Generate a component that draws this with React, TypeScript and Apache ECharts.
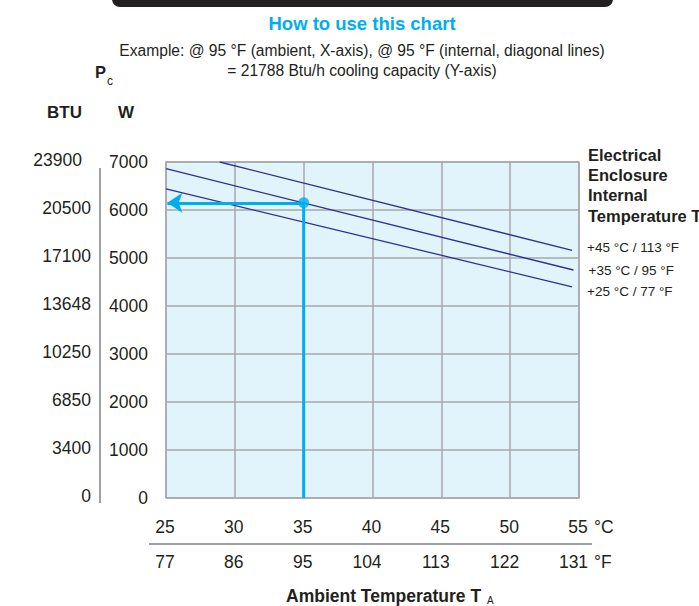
import React, { useEffect, useRef } from "react";
import * as echarts from "echarts";

// ---- data ----
const celsiusTicks = [25, 30, 35, 40, 45, 50, 55];
const celsiusLabels = ["25", "30", "35", "40", "45", "50", "55"];
const fahrenheitLabels = ["77", "86", "95", "104", "113", "122", "131"];
const wattLabels = ["0", "1000", "2000", "3000", "4000", "5000", "6000", "7000"];
const btuLabels = ["0", "3400", "6850", "10250", "13648", "17100", "20500", "23900"];

const seriesNames = ["+45 °C / 113 °F", "+35 °C / 95 °F", "+25 °C / 77 °F"];
const line45 = [[28.9, 7000], [54.5, 5160]];
const line35 = [[25, 6860], [54.6, 4750]];
const line25 = [[25, 6440], [54.5, 4400]];

const exampleAmbient = 35;
const exampleCapacity = 6150;
const arrowEndX = 25.1;

const FONT = "'Liberation Sans', Arial, Helvetica, sans-serif";
const TXT = "#231F20";
const CYAN = "#00AEEF";
const NAVY = "#2E3192";
const GRIDC = "#A7A9AC";

export default function App() {
  const ref = useRef<HTMLDivElement>(null);

  useEffect(() => {
    if (!ref.current) return;
    const chart = echarts.init(ref.current, null, { renderer: "svg" });

    const lineSeries = (name: string, data: number[][], offY: number) => ({
      type: "line",
      name,
      data,
      symbol: "none",
      showSymbol: false,
      lineStyle: { color: NAVY, width: 1.3 },
      z: 3,
      endLabel: {
        show: true,
        formatter: "{a}",
        distance: 15,
        offset: [0, offY],
        fontSize: 13.5,
        fontFamily: FONT,
        color: TXT,
      },
    });

    const txt = (text: string, x: number, y: number, size: number, opts: any = {}) => ({
      type: "text",
      x,
      y,
      silent: true,
      style: {
        text,
        fill: opts.fill || TXT,
        fontSize: size,
        fontFamily: FONT,
        fontWeight: opts.bold ? "bold" : "normal",
        align: opts.align || "left",
        verticalAlign: "middle",
      },
    });

    const idx = (v: number, base: number, step: number) => Math.round((v - base) / step);

    // tick labels sit right-aligned a little right of each tick, as in the reference
    const tickRich = {
      s: { fontSize: 17.5, fontFamily: FONT, color: TXT, padding: [0, 2, 0, 0] },
      l: { fontSize: 17.5, fontFamily: FONT, color: TXT, padding: [0, 11, 0, 0] },
    };
    const tickFmt = (labels: string[]) => (v: number) => {
      const s = labels[idx(v, 25, 5)] ?? "";
      return s.length >= 3 ? "{l|" + s + "}" : "{s|" + s + "}";
    };

    chart.setOption({
      animation: false,
      backgroundColor: "#ffffff",
      grid: {
        left: 166,
        top: 162,
        width: 413,
        height: 336,
        show: true,
        backgroundColor: "#E1F3FB",
        borderColor: GRIDC,
        borderWidth: 1.5,
        containLabel: false,
      },
      xAxis: [
        {
          type: "value",
          min: celsiusTicks[0],
          max: celsiusTicks[celsiusTicks.length - 1],
          interval: 5,
          position: "bottom",
          axisLine: { show: false },
          axisTick: { show: false },
          splitLine: { show: true, lineStyle: { color: GRIDC, width: 1.5 } },
          axisLabel: {
            showMinLabel: true,
            showMaxLabel: true,
            margin: 20,
            fontSize: 17.5,
            fontFamily: FONT,
            color: TXT,
            formatter: tickFmt(celsiusLabels),
            rich: tickRich,
          },
        },
        {
          type: "value",
          min: celsiusTicks[0],
          max: celsiusTicks[celsiusTicks.length - 1],
          interval: 5,
          position: "bottom",
          offset: 35,
          axisLine: { show: false },
          axisTick: { show: false },
          splitLine: { show: false },
          axisLabel: {
            showMinLabel: true,
            showMaxLabel: true,
            margin: 20,
            fontSize: 17.5,
            fontFamily: FONT,
            color: TXT,
            formatter: tickFmt(fahrenheitLabels),
            rich: tickRich,
          },
        },
      ],
      yAxis: [
        {
          type: "value",
          min: 0,
          max: 7000,
          interval: 1000,
          position: "left",
          axisLine: { show: false },
          axisTick: { show: false },
          splitLine: { show: true, lineStyle: { color: GRIDC, width: 1.5 } },
          axisLabel: {
            showMinLabel: true,
            showMaxLabel: true,
            margin: 18,
            fontSize: 17.5,
            fontFamily: FONT,
            color: TXT,
            padding: [0, 0, 4, 0],
            formatter: (v: number) => wattLabels[idx(v, 0, 1000)] ?? "",
          },
        },
        {
          type: "value",
          min: 0,
          max: 7000,
          interval: 1000,
          position: "left",
          offset: 66,
          axisLine: { show: false },
          axisTick: { show: false },
          splitLine: { show: false },
          axisLabel: {
            showMinLabel: true,
            showMaxLabel: true,
            margin: 9,
            fontSize: 17.5,
            fontFamily: FONT,
            color: TXT,
            padding: [0, 0, 4, 0],
            formatter: (v: number) => {
              const i = idx(v, 0, 1000);
              const s = btuLabels[i] ?? "";
              return i === btuLabels.length - 1 ? "{t|" + s + "}" : s;
            },
            rich: {
              t: { fontSize: 17.5, fontFamily: FONT, color: TXT, padding: [0, 9, 0, 0] },
            },
          },
        },
      ],
      series: [
        lineSeries(seriesNames[0], line45, -3),
        lineSeries(seriesNames[1], line35, 0),
        lineSeries(seriesNames[2], line25, 5),
        {
          type: "line",
          name: "example-vertical",
          data: [
            [exampleAmbient, 0],
            [exampleAmbient, exampleCapacity],
          ],
          symbol: "none",
          showSymbol: false,
          lineStyle: { color: CYAN, width: 3 },
          z: 4,
          markLine: {
            silent: true,
            symbol: ["none", "arrow"],
            symbolSize: 15,
            label: { show: false },
            lineStyle: { color: CYAN, width: 3, type: "solid" },
            data: [
              [
                { coord: [exampleAmbient, exampleCapacity] },
                { coord: [arrowEndX, exampleCapacity] },
              ],
            ],
          },
        },
        {
          type: "scatter",
          name: "example-point",
          data: [[exampleAmbient, exampleCapacity]],
          symbol: "circle",
          symbolSize: 11,
          itemStyle: { color: CYAN },
          z: 5,
        },
      ],
      graphic: [
        {
          type: "rect",
          silent: true,
          shape: { x: 112, y: -12, width: 501, height: 19, r: 8 },
          style: { fill: "#231F20" },
        },
        txt("How to use this chart", 362, 23, 18.5, { bold: true, fill: CYAN, align: "center" }),
        txt("Example: @ 95 °F (ambient, X-axis), @ 95 °F (internal, diagonal lines)", 362, 50, 15.6, {
          align: "center",
        }),
        txt("= 21788 Btu/h cooling capacity (Y-axis)", 362, 70, 15.6, { align: "center" }),
        txt("P", 95, 72, 16.5, { bold: true }),
        txt("c", 107, 81, 12),
        txt("BTU", 64.5, 112, 17, { bold: true, align: "center" }),
        txt("W", 126, 112, 17, { bold: true, align: "center" }),
        {
          type: "line",
          silent: true,
          shape: { x1: 100, y1: 168, x2: 100, y2: 503 },
          style: { stroke: "#808285", lineWidth: 1.5 },
        },
        {
          type: "line",
          silent: true,
          shape: { x1: 149, y1: 544, x2: 592, y2: 544 },
          style: { stroke: "#808285", lineWidth: 1.5 },
        },
        txt("°C", 594, 527, 17.5),
        txt("°F", 594, 562, 17.5),
        txt("Electrical", 588, 155, 16.5, { bold: true }),
        txt("Enclosure", 588, 175, 16.5, { bold: true }),
        txt("Internal", 588, 195, 16.5, { bold: true }),
        txt("Temperature T", 588, 216, 16.5, { bold: true }),
        txt("Ambient Temperature T", 286, 596, 17.5, { bold: true }),
        txt("A", 487, 600, 10),
      ],
    });

    return () => chart.dispose();
  }, []);

  return (
    <div
      ref={ref}
      style={{ position: "fixed", left: 0, top: 0, width: 699, height: 606 }}
    />
  );
}
